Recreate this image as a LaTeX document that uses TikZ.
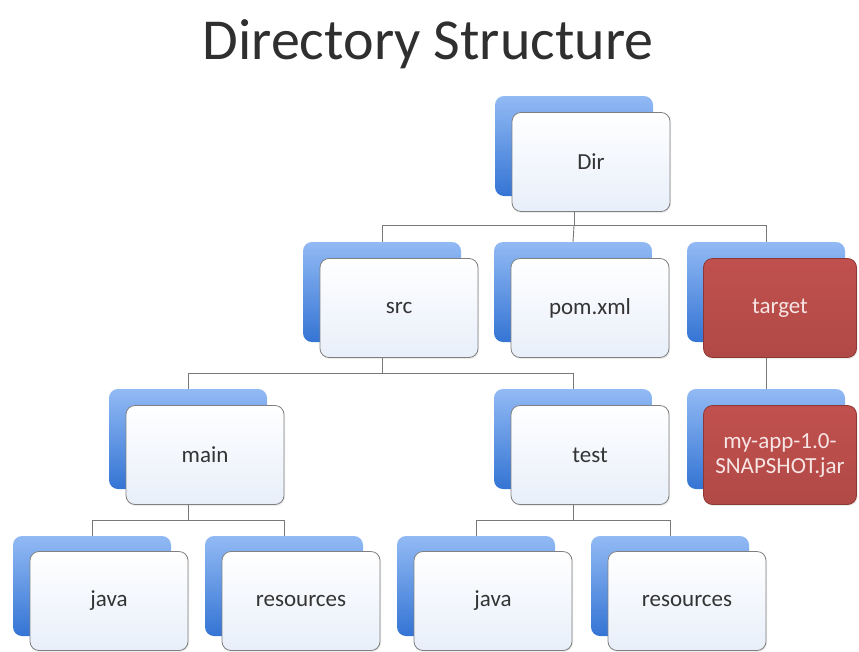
\documentclass[tikz,border=0pt]{standalone}
\usepackage{fontspec}
\setmainfont{Carlito}
\usetikzlibrary{shadows,calc}
\definecolor{skytop}{RGB}{146,186,244}
\definecolor{skybot}{RGB}{52,116,212}
\definecolor{pale}{RGB}{232,239,250}
\definecolor{rim}{RGB}{128,128,128}
\definecolor{ink}{RGB}{52,52,52}
\definecolor{brick}{RGB}{192,80,77}
\definecolor{rust}{RGB}{140,56,54}
\definecolor{wire}{RGB}{120,120,120}
\tikzset{
  back/.style={rounded corners=9pt,top color=skytop,bottom color=skybot,
    minimum width=158pt,minimum height=100pt,inner sep=0pt},
  card/.style={draw=rim,thick,rounded corners=9pt,top color=white,bottom color=pale,
    minimum width=158pt,minimum height=99pt,align=center,text=ink,
    font=\fontsize{23}{25}\selectfont,
    drop shadow={opacity=0.15,shadow xshift=1pt,shadow yshift=-1.5pt}},
  hot/.style={card,draw=rust,top color=brick,bottom color=brick!92!black,
    text=white!85!brick,minimum width=153pt},
  link/.style={draw=wire,line width=0.9pt},
}
\begin{document}
\begin{tikzpicture}[x=1pt,y=-1pt]
  \useasboundingbox (0,0) rectangle (859,651);
  \node[font=\fontsize{58}{64}\selectfont,text=ink!90!black] (title) at (428,44) {Directory Structure};
  % level 0
  \node[back] (dirB) at (574,146) {};
  \node[card] (dir) at (591,162) {Dir};
  % level 1
  \node[back] (srcB) at (382,292) {};
  \node[card] (src) at (399,308) {src};
  \node[back] (pomB) at (573,292) {};
  \node[card] (pom) at (590,308) {pom.xml};
  \node[back] (tgtB) at (766,292) {};
  \node[hot] (tgt) at (780,308) {target};
  % level 2
  \node[back] (mainB) at (188,439) {};
  \node[card] (main) at (205,455) {main};
  \node[back] (testB) at (573,439) {};
  \node[card] (test) at (590,455) {test};
  \node[back] (jarB) at (766,439) {};
  \node[hot] (jar) at (780,455) {my-app-1.0-\\SNAPSHOT.jar};
  % level 3
  \node[back] (javaB) at (92,586) {};
  \node[card] (java) at (109,601) {java};
  \node[back] (resB) at (284,586) {};
  \node[card] (res) at (301,601) {resources};
  \node[back] (tjavaB) at (476,586) {};
  \node[card] (tjava) at (493,601) {java};
  \node[back] (tresB) at (670,586) {};
  \node[card] (tres) at (687,601) {resources};
  % connectors
  \draw[link] (dirB |- dir.south) -- ++(0,14) coordinate (dirJ);
  \draw[link] (srcB.north) |- (dirJ) -| (tgtB.north);
  \draw[link] (dirJ) -- (pomB.north);
  \draw[link] (srcB |- src.south) -- ++(0,16) coordinate (srcJ);
  \draw[link] (mainB.north) |- (srcJ) -| (testB.north);
  \draw[link] (tgtB |- tgt.south) -- (jarB.north);
  \draw[link] (mainB |- main.south) -- ++(0,16) coordinate (mainJ);
  \draw[link] (javaB.north) |- (mainJ) -| (resB.north);
  \draw[link] (testB |- test.south) -- ++(0,16) coordinate (testJ);
  \draw[link] (tjavaB.north) |- (testJ) -| (tresB.north);
\end{tikzpicture}
\end{document}
